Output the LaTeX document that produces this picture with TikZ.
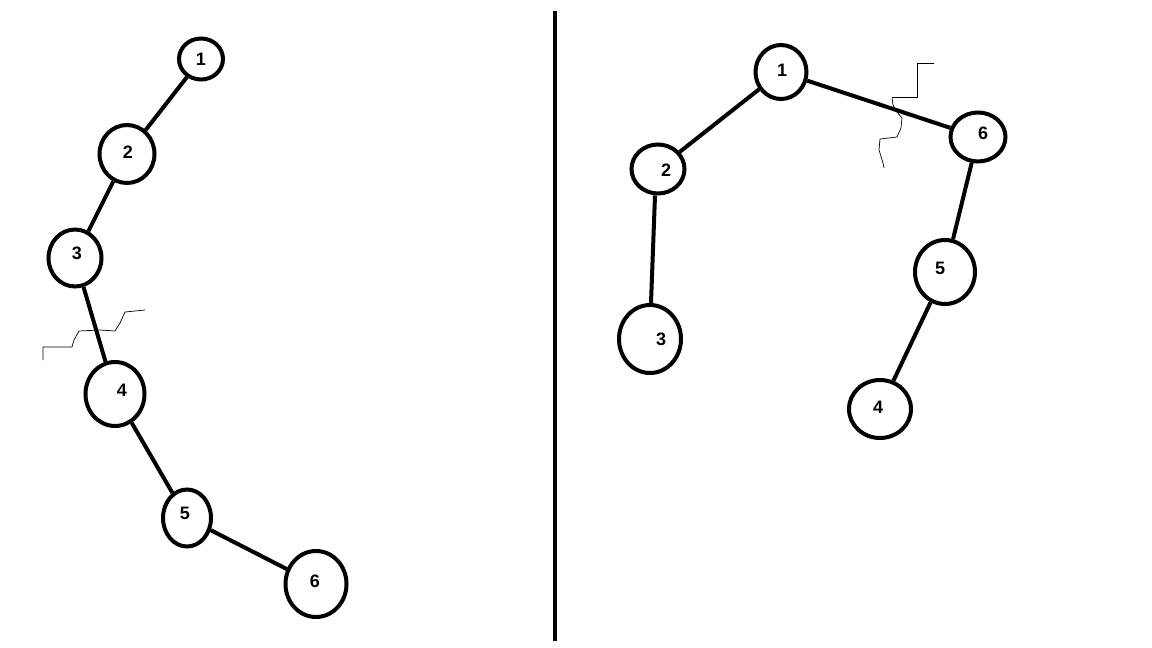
\documentclass[tikz,border=0pt]{standalone}
\usepackage{fontspec}
\setmainfont{Liberation Sans}
\usetikzlibrary{shapes.geometric}
\begin{document}
\begin{tikzpicture}[x=1pt,y=-1pt,
  vtx/.style={draw=black, line width=4pt, ellipse, inner sep=0pt},
  lbl/.style={inner sep=0pt, font=\bfseries\fontsize{18}{18}\selectfont},
  edge/.style={line width=4pt},
  crack/.style={line width=0.7pt, line join=round},
  divider/.style={line width=4pt}]
\useasboundingbox (0,0) rectangle (1152,648);
\fill[white] (0,0) rectangle (1152,648);

% divider
\coordinate (dtop) at (554.7,11);
\coordinate (dbot) at (554.7,641);
\draw[divider] (dtop) -- (dbot);

% left chain
\node[vtx, minimum width=44, minimum height=41] (a1) at (201,59) {};
\node[vtx, minimum width=55, minimum height=58] (a2) at (127,154) {};
\node[vtx, minimum width=53, minimum height=57] (a3) at (75,258) {};
\node[vtx, minimum width=59, minimum height=64] (a4) at (115,394) {};
\node[vtx, minimum width=48, minimum height=57] (a5) at (187,518) {};
\node[vtx, minimum width=61, minimum height=66] (a6) at (316,584) {};
\node[lbl] (a1t) at (201,59) {1};
\node[lbl] (a2t) at (128,152) {2};
\node[lbl] (a3t) at (77,253) {3};
\node[lbl] (a4t) at (122,390) {4};
\node[lbl] (a5t) at (185,513) {5};
\node[lbl] (a6t) at (315,581) {6};
\draw[edge] (a1) -- (a2);
\draw[edge] (a2) -- (a3);
\draw[edge] (a3) -- (a4);
\draw[edge] (a4) -- (a5);
\draw[edge] (a5) -- (a6);

% right tree
\node[vtx, minimum width=51, minimum height=54] (b1) at (781,72) {};
\node[vtx, minimum width=53, minimum height=49] (b2) at (658,169) {};
\node[vtx, minimum width=62, minimum height=68] (b3) at (650,339) {};
\node[vtx, minimum width=55, minimum height=49] (b6) at (978,137) {};
\node[vtx, minimum width=60, minimum height=64] (b5) at (945,272) {};
\node[vtx, minimum width=62, minimum height=58] (b4) at (880,409) {};
\node[lbl] (b1t) at (782,70) {1};
\node[lbl] (b2t) at (666,170) {2};
\node[lbl] (b3t) at (661,339) {3};
\node[lbl] (b6t) at (983,133) {6};
\node[lbl] (b5t) at (940,268) {5};
\node[lbl] (b4t) at (878,407) {4};
\draw[edge] (b1) -- (b2);
\path (b2.south) ++(-3,0) coordinate (b2s) (b3.north) ++(1,0) coordinate (b3n);
\draw[edge] (b2s) -- (b3n);
\draw[edge] (b1) -- (b6);
\draw[edge] (b6) -- (b5);
\draw[edge] (b5) -- (b4);

% cracks
\draw[crack] (43,360) -- (43,347) -- (72,347) -- (74,340) -- (79,331) -- (100,330) -- (115,331) -- (120,323) -- (125,312) -- (145,310);
\draw[crack] (892,97) -- (917,97) -- (917,63) -- (934,63);
\draw[crack] (892,98) -- (893,105) -- (897,112) -- (902,118) -- (901,128) -- (897,137) -- (880,139) -- (879,150) -- (883,163) -- (884,168);
\end{tikzpicture}
\end{document}
